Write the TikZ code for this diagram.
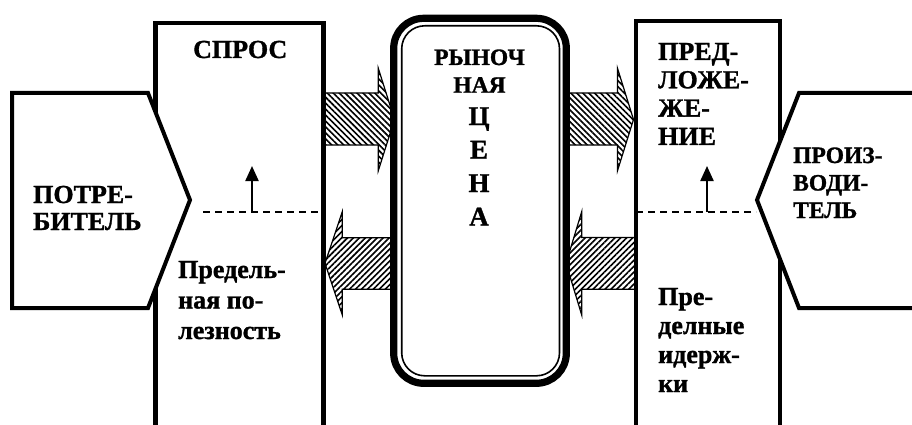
\documentclass[tikz,border=0pt]{standalone}
\usepackage{fontspec}
\setmainfont{LiberationSerif}[Extension=.ttf, UprightFont=*-Regular, BoldFont=*-Bold, BoldFeatures={FakeBold=1.2}]
\usetikzlibrary{patterns.meta,arrows.meta}
\newcommand\blk[2][l]{\begin{tabular}[t]{@{}#1@{}}#2\end{tabular}}
\tikzset{
  openbox/.style={line width=4.5pt, line join=miter},
  pentbox/.style={line width=4pt, line join=miter, fill=white},
  hatchdown/.style={draw, line width=1.2pt, line join=miter,
    pattern={Lines[angle=-45,distance=4.2pt,line width=1.6pt]}},
  hatchup/.style={draw, line width=1.2pt, line join=miter,
    pattern={Lines[angle=45,distance=4.2pt,line width=1.6pt]}},
  dashline/.style={line width=2pt, dash pattern=on 7pt off 5pt},
  uparrow/.style={line width=2.2pt, -{Triangle[length=15pt,width=13pt]}},
  lbl/.style={inner sep=0pt, anchor=base west},
  clbl/.style={inner sep=0pt, anchor=base},
}
\begin{document}
\begin{tikzpicture}[x=1pt,y=-1pt]
\useasboundingbox (0,0) rectangle (912,425);
\clip (0,0) rectangle (912,425);
\fill[white] (0,0) rectangle (912,425);
% named points
\coordinate (d1) at (203,212);
\coordinate (d1e) at (323.5,212);
\coordinate (u1) at (252,212);
\coordinate (u1t) at (252,166);
\coordinate (d2) at (636,212);
\coordinate (d2e) at (756,212);
\coordinate (u2) at (707,212);
\coordinate (u2t) at (707,166);
% hatched arrows
\draw[hatchdown] (323,93) -- (378.3,93) -- (378.3,68.3) -- (394.5,119.5) -- (378.3,170.7) -- (378.3,145) -- (323,145) -- cycle;
\draw[hatchdown] (567,93) -- (617.5,93) -- (617.5,68.3) -- (633.5,119.5) -- (617.5,170.7) -- (617.5,145) -- (567,145) -- cycle;
\draw[hatchup] (392,237.7) -- (342.3,237.7) -- (342.3,211.7) -- (325,263.3) -- (342.3,315) -- (342.3,289.3) -- (392,289.3) -- cycle;
\draw[hatchup] (636,237.5) -- (581.7,237.5) -- (581.7,211.7) -- (566,263.3) -- (581.7,315) -- (581.7,289.3) -- (636,289.3) -- cycle;
% open boxes
\draw[openbox] (155.5,440) -- (155.5,23) -- (323.5,23) -- (323.5,440);
\draw[openbox] (636,440) -- (636,21) -- (780,21) -- (780,440);
% market price box
\draw[line width=7.2pt, fill=white, rounded corners=30pt] (393.7,18.3) rectangle (566.3,383.3);
\draw[line width=1.6pt, rounded corners=23pt] (401.7,25.8) rectangle (559.5,375.8);
% pentagons
\draw[pentbox] (12,93) -- (148,93) -- (190,200) -- (148,308) -- (12,308) -- cycle;
\draw[pentbox] (940,93) -- (799,93) -- (757,200) -- (799,308) -- (940,308) -- cycle;
% dashed lines and up arrows
\draw[dashline] (d1) -- (d1e);
\draw[dashline] (d2) -- (d2e);
\draw[uparrow] (u1) -- (u1t);
\draw[uparrow] (u2) -- (u2t);
% texts
\node[lbl, font=\bfseries\fontsize{26}{28}\selectfont] (spros) at (193,58) {СПРОС};
\node[lbl, font=\bfseries\fontsize{26}{27}\selectfont] (potr) at (33,203) {\blk{ПОТРЕ-\\БИТЕЛЬ}};
\node[lbl, font=\bfseries\fontsize{26}{30.5}\selectfont] (polez) at (178,278) {\blk{Предель-\\ная по-\\лезность}};
\node[clbl, font=\bfseries\fontsize{23.5}{27.7}\selectfont] (rynoch) at (479.5,65) {\blk[c]{РЫНОЧ\\НАЯ}};
\node[clbl, font=\bfseries\fontsize{27}{33.5}\selectfont] (tsena) at (479,125) {\blk[c]{Ц\\Е\\Н\\А}};
\node[lbl, font=\bfseries\fontsize{26}{28.3}\selectfont] (predl) at (658,60) {\blk{ПРЕД-\\ЛОЖЕ-\\ЖЕ-\\НИЕ}};
\node[lbl, font=\bfseries\fontsize{26}{29}\selectfont] (izderzh) at (658,305) {\blk{Пре-\\делные\\идерж-\\ки}};
\node[lbl, font=\bfseries\fontsize{23.5}{27.5}\selectfont] (proizv) at (793,163) {\blk{ПРОИЗ-\\ВОДИ-\\ТЕЛЬ}};
\end{tikzpicture}
\end{document}
